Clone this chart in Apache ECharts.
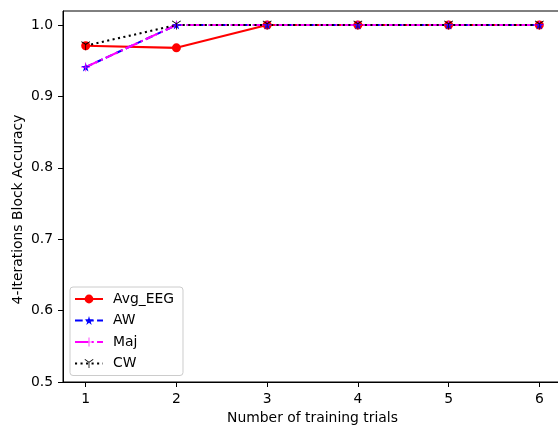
<!DOCTYPE html>
<html><head><meta charset="utf-8">
<script src="https://cdn.jsdelivr.net/npm/echarts@6/dist/echarts.min.js"></script>
<style>html,body{margin:0;padding:0;background:#fff}#c{width:558px;height:425px}</style>
</head><body><div id="c"></div>
<script>
const trials = [1, 2, 3, 4, 5, 6];
const avgEEG = [0.971, 0.968, 1.0, 1.0, 1.0, 1.0];
const aw = [0.941, 1.0, 1.0, 1.0, 1.0, 1.0];
const maj = [0.941, 1.0, 1.0, 1.0, 1.0, 1.0];
const cw = [0.971, 1.0, 1.0, 1.0, 1.0, 1.0];
const yTicks = [0.5, 0.6, 0.7, 0.8, 0.9, 1.0];

const pair = (ys) => trials.map((x, i) => [x, ys[i]]);
const FONT = 'DejaVu Sans';
const starPath = 'path://M0,-10 L2.245,-3.09 L9.51,-3.09 L3.633,1.18 L5.878,8.09 L0,3.82 L-5.878,8.09 L-3.633,1.18 L-9.51,-3.09 L-2.245,-3.09 Z';
const plusPath = 'path://M-10,-0.8 L-0.8,-0.8 L-0.8,-10 L0.8,-10 L0.8,-0.8 L10,-0.8 L10,0.8 L0.8,0.8 L0.8,10 L-0.8,10 L-0.8,0.8 L-10,0.8 Z';
const triDownPath = 'path://M-0.8,0 L-0.8,10 L0.8,10 L0.8,0 L9.06,-4.77 L8.26,-6.16 L0,-1.39 L-8.26,-6.16 L-9.06,-4.77 Z';

const chart = echarts.init(document.getElementById('c'), null, {renderer: 'canvas'});
chart.setOption({
  animation: false,
  backgroundColor: '#fff',
  textStyle: {fontFamily: FONT},
  grid: {left: 63, right: -4, top: 11, bottom: 43, containLabel: false, outerBoundsMode: 'none',
         show: true, borderColor: '#000', borderWidth: 1, backgroundColor: 'transparent'},
  xAxis: {
    type: 'value', min: 0.75, max: 6.25, interval: 1,
    axisLine: {show: true, lineStyle: {color: '#000', width: 1}},
    axisTick: {show: true, inside: false, length: 5, lineStyle: {color: '#000'}, customValues: trials},
    axisLabel: {color: '#000', fontSize: 13.9, fontFamily: FONT, margin: 10, customValues: trials, formatter: v => String(v)},
    splitLine: {show: false},
    name: 'Number of training trials', nameLocation: 'middle', nameGap: 29,
    nameTextStyle: {color: '#000', fontSize: 13.9, fontFamily: FONT}
  },
  yAxis: {
    type: 'value', min: 0.5, max: 1.0196,
    axisLine: {show: true, lineStyle: {color: '#000', width: 1}},
    axisTick: {show: true, inside: false, length: 5, lineStyle: {color: '#000'}, customValues: yTicks},
    axisLabel: {color: '#000', fontSize: 13.9, fontFamily: FONT, margin: 10, customValues: yTicks, formatter: v => v.toFixed(1)},
    splitLine: {show: false},
    name: '4-Iterations Block Accuracy', nameLocation: 'middle', nameGap: 38, nameRotate: 90, nameMoveOverlap: false,
    nameTextStyle: {color: '#000', fontSize: 13.9, fontFamily: FONT, padding: [0, 26, 0, 0]}
  },
  legend: {
    left: 70, top: 287, orient: 'vertical',
    backgroundColor: 'rgba(255,255,255,0.8)', borderColor: '#cccccc', borderWidth: 1, borderRadius: 3,
    padding: [5, 9, 5, 4], itemGap: 7.5, itemWidth: 28, itemHeight: 11,
    textStyle: {color: '#000', fontSize: 13.9, fontFamily: FONT, padding: [0, 0, 0, 5]},
    data: ['Avg_EEG', 'AW', 'Maj', 'CW']
  },
  series: [
    {name: 'Avg_EEG', type: 'line', data: pair(avgEEG), symbol: 'circle', symbolSize: 9,
     lineStyle: {color: '#ff0000', width: 2.08}, itemStyle: {color: '#ff0000'}, showAllSymbol: true},
    {name: 'AW', type: 'line', data: pair(aw), symbol: starPath, symbolSize: 9,
     lineStyle: {color: '#0000ff', width: 2.08, type: [7.7, 3.33]}, itemStyle: {color: '#0000ff'}, showAllSymbol: true},
    {name: 'Maj', type: 'line', data: pair(maj), symbol: plusPath, symbolSize: 9,
     lineStyle: {color: '#ff00ff', width: 2.08, type: [13.3, 3.33, 2.08, 3.33]}, itemStyle: {color: '#ff00ff'}, showAllSymbol: true},
    {name: 'CW', type: 'line', data: pair(cw), symbol: triDownPath, symbolSize: 9,
     lineStyle: {color: '#000000', width: 2.08, type: [2.08, 3.44]}, itemStyle: {color: '#000000'}, showAllSymbol: true}
  ]
});
</script></body></html>
